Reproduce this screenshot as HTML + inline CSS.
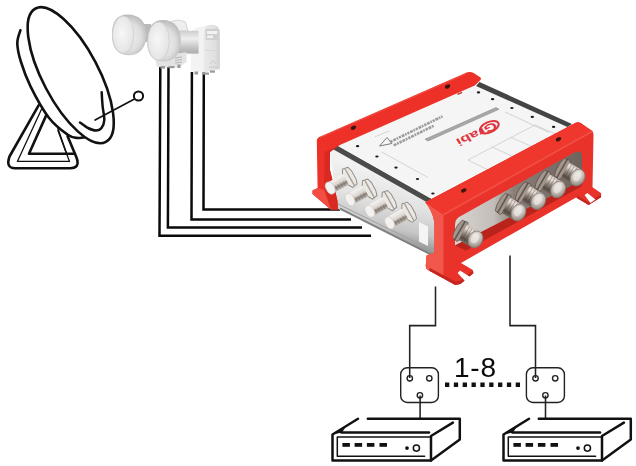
<!DOCTYPE html>
<html><head><meta charset="utf-8"><title>Multiswitch diagram</title>
<style>html,body{margin:0;padding:0;background:#fff;overflow:hidden}svg{display:block}</style>
</head><body>
<svg width="636" height="466" viewBox="0 0 636 466">
<defs>
<linearGradient id="lnbA" x1="0" y1="0" x2="1" y2="0"><stop offset="0" stop-color="#d4d4d4"/><stop offset="0.5" stop-color="#f4f4f4"/><stop offset="1" stop-color="#c4c4c4"/></linearGradient>
<radialGradient id="lnbF" cx="0.45" cy="0.45" r="0.7"><stop offset="0" stop-color="#f7f7f7"/><stop offset="0.7" stop-color="#e6e6e6"/><stop offset="1" stop-color="#c6c6c6"/></radialGradient>
<radialGradient id="hornG" cx="0.5" cy="0.55" r="0.62"><stop offset="0" stop-color="#f0f0f0"/><stop offset="0.55" stop-color="#dedede"/><stop offset="1" stop-color="#adadad"/></radialGradient>
<linearGradient id="neckG" x1="0" y1="0" x2="0" y2="1"><stop offset="0" stop-color="#cdcdcd"/><stop offset="0.35" stop-color="#efefef"/><stop offset="0.75" stop-color="#c2c2c2"/><stop offset="1" stop-color="#adadad"/></linearGradient>
<linearGradient id="bodyG" x1="0" y1="0" x2="1" y2="0"><stop offset="0" stop-color="#e9e9e9"/><stop offset="0.7" stop-color="#e0e0e0"/><stop offset="1" stop-color="#cfcfcf"/></linearGradient>
<filter id="noLcd" x="-5%" y="-5%" width="110%" height="110%"><feOffset dx="0" dy="0"/></filter>
<linearGradient id="silver" x1="0" y1="0" x2="0" y2="1"><stop offset="0" stop-color="#e6e6e6"/><stop offset="0.5" stop-color="#cfcfcf"/><stop offset="1" stop-color="#a9a9a9"/></linearGradient>
<linearGradient id="conn" x1="0" y1="0" x2="0" y2="1"><stop offset="0" stop-color="#f2efec"/><stop offset="0.45" stop-color="#c9c3bd"/><stop offset="1" stop-color="#6e6761"/></linearGradient>
</defs>
<rect width="636" height="466" fill="#fff"/>
<g fill="none" stroke="#111" stroke-linecap="round" stroke-linejoin="round">
<!-- stand -->
<path d="M38.6 105.4 L9.5 156.5 Q5.5 168.2 15 168.2 L70 168.2 Q80.5 168.2 76.5 157.5 L67.6 136.3" stroke-width="2.6"/>
<path d="M41.5 109.3 L17.4 161.4 L69.5 161.4 L57.9 130.5" stroke-width="1.3"/>
<path d="M46.3 115.1 L29 153.7 L73.4 153.7" stroke-width="2.6"/><path d="M66.6 153.7 L57.9 128.6" stroke-width="1.5"/>
<!-- back rim -->
<path d="M20.4 30.2 C19.9 32.4 17.2 38.1 17.3 43.4 C17.4 48.7 18.8 54.9 21.0 62.0 C23.2 69.2 25.9 77.0 30.5 86.3 C35.1 95.6 42.7 109.6 48.9 117.7 C55.1 125.8 62.9 131.3 67.7 134.7 C72.5 138.1 75.0 137.6 78.0 138.0 C81.0 138.4 84.7 137.2 86.0 137.0" stroke-width="2.6"/>
<!-- front rim -->
<ellipse cx="70.7" cy="75.2" rx="75.4" ry="28" transform="rotate(62.2 70.7 75.2)" stroke-width="2.6" fill="#fff"/>
<!-- feed -->
<path d="M101.7 92.3 C101.8 94.6 102.2 101.4 102.6 106.0 C103.0 110.6 104.5 116.3 104.3 120.0 C104.1 123.7 102.9 126.2 101.5 128.0 C100.1 129.8 98.2 130.5 96.0 130.5 C93.8 130.5 90.7 129.3 88.0 128.0 C85.3 126.7 81.3 123.4 80.0 122.5" stroke-width="2.5"/>
<path d="M95.1 120 L134 99.2" stroke-width="1.7"/>
<circle cx="138.5" cy="96" r="4.6" stroke-width="2" fill="#fff"/>
</g>
<g fill="none" stroke="#0a0a0a" stroke-width="2.5" stroke-linejoin="miter">
<path d="M160.3 67 L159.5 235.7 H371"/>
<path d="M168.5 67 L167.9 227.6 H362"/>
<path d="M191.9 72 L191.5 219.4 H351"/>
<path d="M203.8 72 L203.5 209.6 H340"/>
</g>
<g>
<!-- back LNB horn -->
<rect x="143" y="24" width="8" height="18" fill="#b9b9b9"/>
<path d="M111.9 34.5 C111.9 21 117.5 14.4 128 14.4 C139 14.4 146.5 22 146.5 34.5 C146.5 47.5 139.5 55.3 129 55.3 C118 55.3 111.9 48.5 111.9 34.5 Z" fill="url(#hornG)"/>
<ellipse cx="123.2" cy="34.8" rx="10.6" ry="18.6" fill="url(#lnbF)" stroke="#cfcfcf" stroke-width="0.6"/>
<!-- back body top peeking -->
<path d="M167 31 L167 24 Q176 17.5 185.5 22 L188 31 Z" fill="#eeeeee" stroke="#c4c4c4" stroke-width="0.7"/>
<!-- body -->
<path d="M190.9 71.4 L190.9 33 Q192 27.5 203 26.5 Q207 24.6 212 24.8 Q219.8 25.3 219.8 33 L219.8 69 L204 72.5 Z" fill="#f3f3f3"/>
<path d="M203.8 72.4 L203.8 32 Q204 25 212 24.8 Q219.8 25.3 219.8 33 L219.8 69 Z" fill="url(#bodyG)"/>
<rect x="205.6" y="29" width="13" height="11" rx="1" fill="#cfcfcf"/>
<rect x="207" y="31" width="10.2" height="3" fill="#f2f2f2"/>
<rect x="207" y="35.5" width="6" height="2.6" fill="#f2f2f2"/>
<path d="M205 50.5 H219" stroke="#d2d2d2" stroke-width="0.7"/>
<path d="M210 64 l3 -3.5 l3 3.5 M209 67 h9" stroke="#c4c4c4" stroke-width="0.8" fill="none"/>
<!-- front LNB neck -->
<rect x="178" y="30.8" width="20.6" height="22.8" fill="url(#neckG)"/>
<!-- bracket under front horn -->
<path d="M155 58 L186.5 52 L186.5 62 L179 67.5 L157 67 Z" fill="#e3e3e3"/>
<path d="M175 58 l7 -1 M175 60.5 l7 -1 M175 63 l7 -1" stroke="#b5b5b5" stroke-width="1"/>
<!-- nubs -->
<g fill="#9a9a9a"><rect x="160.5" y="66" width="4.5" height="2.6"/><rect x="168.5" y="66" width="6" height="2.2"/><rect x="177.5" y="64.5" width="3" height="3.5"/>
<rect x="194.5" y="71.5" width="3.6" height="3"/><rect x="202" y="72.5" width="7" height="2.2"/><rect x="210" y="70.5" width="5" height="2.2"/></g>
<!-- front horn -->
<path d="M147.1 41 C147.1 27 153 20.1 163 20.1 C174 20.1 180.8 28 180.8 41 C180.8 54 174 61.6 164 61.6 C153 61.6 147.1 55 147.1 41 Z" fill="url(#hornG)"/>
<ellipse cx="158.6" cy="41.2" rx="10.8" ry="19.2" fill="url(#lnbF)" stroke="#cdcdcd" stroke-width="0.6"/>
</g>
<g fill="#fff" stroke="#222" stroke-width="1.4">
<rect x="400.7" y="367.8" width="37.7" height="34.7" rx="6.5" ry="6.5"/>
<rect x="526.4" y="367.8" width="38" height="34.7" rx="6.5" ry="6.5"/>
<circle cx="409.8" cy="378.3" r="2.7"/><circle cx="429.3" cy="378.3" r="2.7"/><circle cx="419.9" cy="395.3" r="2.7"/>
<circle cx="535.5" cy="378.3" r="2.7"/><circle cx="555.2" cy="378.3" r="2.7"/><circle cx="545.4" cy="395.3" r="2.7"/>
</g>
<g fill="none" stroke="#222" stroke-width="1.55">
<path d="M435.5 286.5 V325.6 H409.7 V378"/>
<path d="M510 255.5 V325.6 H535.5 V378"/>
<path d="M420.1 395.5 V418.5"/>
<path d="M545.5 395.5 V418.5"/>
</g>
<line x1="445" y1="384.8" x2="521" y2="384.8" stroke="#111" stroke-width="4.4" stroke-dasharray="4.3 4.54"/>
<g filter="url(#noLcd)"><text x="454" y="376.6" font-family="'Liberation Sans','Noto Sans CJK SC',sans-serif" font-size="28" letter-spacing="0.8" fill="#0a0a0a">1-8</text></g>
<g transform="translate(0 0)" fill="none" stroke="#111" stroke-linecap="round" stroke-linejoin="round">
<path d="M358 418.8 L332.5 434.5 V460.6 H431 L459.8 439.6 V418.8 H367.8" stroke-width="2.5"/>
<path d="M431 460.6 V436 L452.9 422.6" stroke-width="2.5"/>
<path d="M341.4 432.6 H429" stroke-width="2.5"/>
<path d="M332.5 434.5 L342 432.6 L346 426.2 Z" fill="#111" stroke="none"/>
<path d="M431 436.9 H337.3 V456.2 H424.6" stroke-width="1.5"/>
<g fill="#111" stroke="none">
<rect x="342.4" y="443" width="7.5" height="3.8"/><rect x="354.6" y="443" width="7.5" height="3.8"/><rect x="366.9" y="443" width="7.5" height="3.8"/><rect x="379.5" y="443" width="7.5" height="3.8"/>
<circle cx="407" cy="448.1" r="1.9"/>
</g>
<circle cx="416.4" cy="448.1" r="3.1" stroke-width="1.5"/>
</g>
<g transform="translate(171 0)" fill="none" stroke="#111" stroke-linecap="round" stroke-linejoin="round">
<path d="M358 418.8 L332.5 434.5 V460.6 H431 L459.8 439.6 V418.8 H367.8" stroke-width="2.5"/>
<path d="M431 460.6 V436 L452.9 422.6" stroke-width="2.5"/>
<path d="M341.4 432.6 H429" stroke-width="2.5"/>
<path d="M332.5 434.5 L342 432.6 L346 426.2 Z" fill="#111" stroke="none"/>
<path d="M431 436.9 H337.3 V456.2 H424.6" stroke-width="1.5"/>
<g fill="#111" stroke="none">
<rect x="342.4" y="443" width="7.5" height="3.8"/><rect x="354.6" y="443" width="7.5" height="3.8"/><rect x="366.9" y="443" width="7.5" height="3.8"/><rect x="379.5" y="443" width="7.5" height="3.8"/>
<circle cx="407" cy="448.1" r="1.9"/>
</g>
<circle cx="416.4" cy="448.1" r="3.1" stroke-width="1.5"/>
</g>
<defs>
<linearGradient id="sideFace" gradientUnits="userSpaceOnUse" x1="380" y1="170" x2="365" y2="235"><stop offset="0" stop-color="#f2f2f2"/><stop offset="0.45" stop-color="#e2e2e2"/><stop offset="0.8" stop-color="#c6c6c6"/><stop offset="1" stop-color="#9a9a9a"/></linearGradient>
<linearGradient id="barrelS" x1="0" y1="0" x2="0" y2="1"><stop offset="0" stop-color="#c9c3bd"/><stop offset="0.28" stop-color="#8a8078"/><stop offset="0.5" stop-color="#d9d4cf"/><stop offset="1" stop-color="#f6f4f2"/></linearGradient>
<linearGradient id="barrelR" x1="0" y1="0" x2="0" y2="1"><stop offset="0" stop-color="#cfc6bf"/><stop offset="0.2" stop-color="#e9e2dc"/><stop offset="0.5" stop-color="#978b81"/><stop offset="0.8" stop-color="#574c45"/><stop offset="1" stop-color="#7f736a"/></linearGradient>
<radialGradient id="faceR" cx="0.4" cy="0.35" r="0.75"><stop offset="0" stop-color="#ebe7e3"/><stop offset="0.55" stop-color="#c2bab3"/><stop offset="1" stop-color="#7e736b"/></radialGradient>
<linearGradient id="inner" gradientUnits="userSpaceOnUse" x1="455" y1="0" x2="585" y2="0"><stop offset="0" stop-color="#d8d4d0"/><stop offset="0.3" stop-color="#c2bdb8"/><stop offset="0.45" stop-color="#8b8079"/><stop offset="1" stop-color="#6d625b"/></linearGradient>
<clipPath id="openClip"><path d="M453 221.5 L583 148.5 L612 148.5 L612 300 L453 300 Z"/></clipPath>
<g id="cS">
<path d="M-4 -9.5 L1.5 -10.5 L4.5 -5.5 L4.5 5.5 L1.5 10.5 L-4 9.5 L-5.5 4.5 L-5.5 -4.5 Z" fill="#ece9e5" stroke="#8c857e" stroke-width="0.9"/>
<path d="M-0.8 -10 L-0.8 10" stroke="#a8a19a" stroke-width="1.4" fill="none"/>
<rect x="3.5" y="-6" width="18" height="12" fill="url(#barrelS)"/>
<path d="M7 -5.5 v5 M10 -5.5 v5 M13 -5.5 v5 M16 -5.5 v5" stroke="#6f665f" stroke-width="0.8" opacity="0.6"/>
<rect x="17.5" y="-6.4" width="8" height="12.8" rx="3.6" ry="5" fill="#f4f2f0" stroke="#d0cbc6" stroke-width="0.7"/>
</g>
<g id="cR">
<path d="M-4.5 -10 L1.5 -11 L4 -6 L4 6 L1.5 11 L-4.5 10 L-6 4.5 L-6 -4.5 Z" fill="#a2968d" stroke="#5a4f48" stroke-width="0.7"/>
<path d="M-1.5 -10.5 L-1.5 10.5" stroke="#463c36" stroke-width="1.6" fill="none" opacity="0.7"/>
<rect x="2" y="-8.8" width="15" height="17.6" fill="url(#barrelR)"/>
<path d="M5 -8.3 v16.6 M8 -8.3 v16.6 M11 -8.3 v16.6" stroke="#4f443d" stroke-width="0.8" opacity="0.45"/>
<ellipse cx="16.5" cy="0" rx="7" ry="8.8" fill="url(#faceR)" stroke="#857a72" stroke-width="0.7"/>
<ellipse cx="15.4" cy="-1.2" rx="3.8" ry="5.6" fill="#ece8e4" opacity="0.7"/>
</g>
</defs>
<g id="multiswitch">
<path d="M329 146 L436 201 L436 258 L338 209 Z" fill="url(#sideFace)"/>
<path d="M338 204 L434 251" stroke="#a2a2a2" stroke-width="1" fill="none"/>
<path d="M340 208.5 L434 256" stroke="#7d7d7d" stroke-width="1.6" fill="none"/>
<path d="M330 141.5 L431 198.5 L431 204.5 L330 147.5 Z" fill="#4b4b4b"/>
<path d="M337 145.2 L476 86 L567.5 127 L430 198 Z" fill="#f5f5f5"/>
<path d="M476 86 L479.5 82 L572 124 L567.5 127 Z" fill="#444"/>
<g stroke="#bdbdbd" stroke-width="0.6" fill="none"><path d="M381.6 151.9 L428 177.5"/><path d="M375 136.8 L389 131"/><path d="M505 112 L549 132.5"/><path d="M468 160 L535 125 L560 136 L492 172 Z"/><path d="M492 147 L513 156.5 M511 137.5 L533 147"/></g>
<path d="M425 139.2 L496 107.6 L499 109.3 L428 141 Z" fill="#a9a9a9" stroke="#7a7a7a" stroke-width="0.5"/>
<path d="M390.5 141.8 l52 -25.5" stroke="#9c9c9c" stroke-width="2.6" stroke-dasharray="2.2 0.9 3 0.8 1.6 0.9" fill="none"/>
<path d="M393.7 145.4 l40 -19.6" stroke="#9c9c9c" stroke-width="2.6" stroke-dasharray="3 0.8 1.8 0.9 2.4 0.8" fill="none"/>
<path d="M379.5 146 l7.5 -8.5 l4.8 6 Z" fill="none" stroke="#7d7d7d" stroke-width="1"/>
<ellipse cx="357.6" cy="146.2" rx="1.7" ry="1.1" fill="#1a1a1a"/>
<ellipse cx="376.9" cy="156.5" rx="1.7" ry="1.1" fill="#1a1a1a"/>
<ellipse cx="396" cy="167.6" rx="1.7" ry="1.1" fill="#1a1a1a"/>
<ellipse cx="417.5" cy="179" rx="1.7" ry="1.1" fill="#1a1a1a"/>
<ellipse cx="432.9" cy="193.5" rx="1.7" ry="1.1" fill="#1a1a1a"/>
<ellipse cx="478.5" cy="92.4" rx="1.7" ry="1.1" fill="#1a1a1a"/>
<ellipse cx="492.6" cy="99.2" rx="1.7" ry="1.1" fill="#1a1a1a"/>
<ellipse cx="511.9" cy="108" rx="1.7" ry="1.1" fill="#1a1a1a"/>
<ellipse cx="532.3" cy="116.9" rx="1.7" ry="1.1" fill="#1a1a1a"/>
<ellipse cx="553.6" cy="126.9" rx="1.7" ry="1.1" fill="#1a1a1a"/>
<path d="M457.5 94.3 l4.5 -2" stroke="#c9352c" stroke-width="1.4"/>
<path d="M419 222 L428 226.5 L428 246 L419 241.5 Z" fill="#f4f4f4"/>
<path d="M316.8 141 Q316.8 138 319.8 136.8 L465 73.2 Q470 71 474 73.3 L480.5 77.5 Q482 79 480 80.5 L474.8 85.5 L339.3 145.2 L330 152 L330 170 L333 182 L337.5 201 L338 209.8 L331 209.8 L312.5 194 L312.5 190.5 L317.6 188 Z" fill="#ee3128"/>
<path d="M324.3 152.2 L339.3 145.2 L330 152 L330 170 L333 182 L337.5 201 L338 209.8 L331 209.8 L324.3 190 Z" fill="#d82a22"/>
<path d="M317.6 188 L324.3 190 L331 209.8 L312.5 194 L312.5 190.5 Z" fill="#f24d42"/>
<path d="M319.8 137.6 L465.5 73.9" stroke="#f2665a" stroke-width="1" opacity="0.6" fill="none"/>
<use href="#cS" transform="translate(349.0 177.6) rotate(151)"/>
<use href="#cS" transform="translate(368.8 189.2) rotate(151)"/>
<use href="#cS" transform="translate(388.6 200.8) rotate(151)"/>
<use href="#cS" transform="translate(408.4 212.4) rotate(151)"/>
<path d="M425.2 202.2 L572.9 124.2 Q577.6 121 581 123.3 L592.5 131.2 L593.5 134 L592.5 187.3 L600.5 192.8 Q601.3 193.5 601.2 195 L601 197.2 L588.6 204.9 L576.5 197.2 L461 262.9 L472.8 270 L473.4 273.3 L460.5 284 L455.2 285 L428.9 270.5 Q425.7 269 425.7 266.6 L426.5 255.6 L434.4 252.5 L434.4 222 Q432 210 425.2 202.2 Z" fill="#e8322a"/>
<path d="M425.2 202.2 L443.5 214.8 L443.5 278.6 L428.9 270.5 Q425.7 269 425.7 266.6 L426.5 255.6 L434.4 252.5 L434.4 222 Q432 210 425.2 202.2 Z" fill="#f2574b"/>
<path d="M425.2 202.2 L572.9 124.2 Q577.6 121 581 123.3 L592.5 131.2 L443.5 214.8 Z" fill="#f0372d"/>
<path d="M443.5 214.8 L592.5 131.2" stroke="#f4675b" stroke-width="1.6" opacity="0.55" fill="none"/>
<path d="M455 225 Q455 219.5 459 217 L573 153.2 Q582 148.5 582 156 L582 180.5 L455 245.5 Z" fill="url(#inner)"/>
<path d="M455 245.5 L582 180.5 L582 186 L466 250.5 Z" fill="#b8231b"/>
<g clip-path="url(#openClip)">
<use href="#cR" transform="translate(461.2 231.2) rotate(30)"/>
<use href="#cR" transform="translate(504.2 204.3) rotate(30)"/>
<use href="#cR" transform="translate(524.0 192.9) rotate(30)"/>
<use href="#cR" transform="translate(543.8 181.2) rotate(30)"/>
<use href="#cR" transform="translate(563.3 169.3) rotate(30)"/>
</g>
<path d="M473.4 273.3 L460.5 284 L455.2 285 L428.9 270.5 L430 268 L455.5 281.6 L460.2 280.8 L472.9 270.6 Z" fill="#c4271f"/>
<path d="M457.6 273 L460 270.6 L470.2 277 L465.2 281.2 Z" fill="#fff"/>
<path d="M601 197.2 L588.6 204.9 L576.5 198 L576.8 195.6 L588.6 202.2 L600.8 194.6 Z" fill="#c4271f"/>
<path d="M584.6 194.9 L587.4 192.9 L595.4 199.4 L590.4 203 Z" fill="#fff"/>
<ellipse cx="353.5" cy="127.7" rx="2.9" ry="1.9" fill="#3a1512" transform="rotate(-25 353.5 127.7)"/>
<ellipse cx="447.6" cy="86.5" rx="2.9" ry="1.9" fill="#3a1512" transform="rotate(-25 447.6 86.5)"/>
<ellipse cx="463.8" cy="190.4" rx="2.9" ry="1.9" fill="#3a1512" transform="rotate(-25 463.8 190.4)"/>
<ellipse cx="558.5" cy="139.2" rx="2.9" ry="1.9" fill="#3a1512" transform="rotate(-25 558.5 139.2)"/>
<ellipse cx="489.3" cy="127.2" rx="10" ry="5.2" fill="none" stroke="#e0353c" stroke-width="2" transform="rotate(-24 489.3 127.2)"/>
<text transform="matrix(-1.0 0.46 -0.39 -0.64 494.3 121.6)" font-family="'Liberation Sans',sans-serif" font-weight="bold" font-size="15" fill="#e0353c">Grabi</text>
</g>
</svg>
</body></html>
